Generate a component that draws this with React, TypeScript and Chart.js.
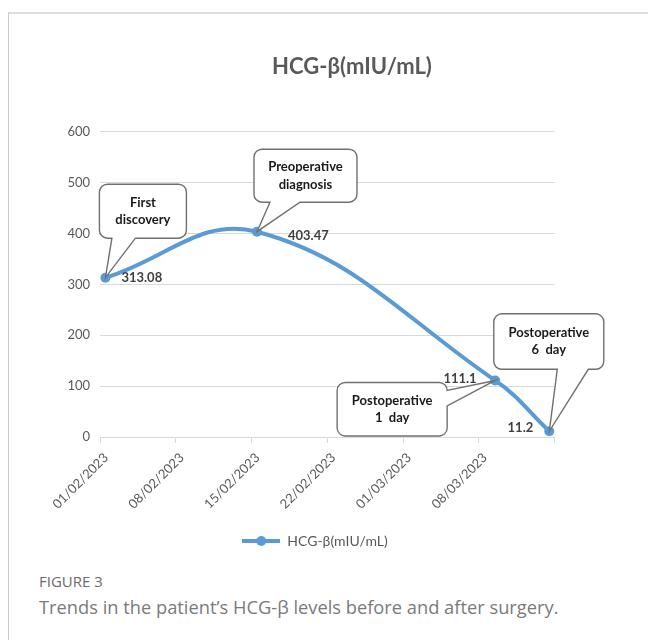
import React, { useEffect, useRef } from 'react';
import { Chart, registerables } from 'chart.js';

Chart.register(...registerables);

// ---------- data ----------
const seriesName = 'HCG-β(mIU/mL)';
const chartTitle = 'HCG-β(mIU/mL)';
const axisStartDate = '01/02/2023';
const axisLengthDays = 42;
const pointDates = ['01/02/2023', '15/02/2023', '09/03/2023', '14/03/2023'];
const hcgValues = [313.08, 403.47, 111.1, 11.2];
const valueLabels = ['313.08', '403.47', '111.1', '11.2'];
const calloutTexts = [
  ['First', 'discovery'],
  ['Preoperative', 'diagnosis'],
  ['Postoperative', '1  day'],
  ['Postoperative', '6  day'],
];
const xTickLabels = ['01/02/2023', '08/02/2023', '15/02/2023', '22/02/2023', '01/03/2023', '08/03/2023'];
const xTickStepDays = 7;
const yMin = 0;
const yMax = 600;
const yStep = 100;

// ---------- layout / style (not data) ----------
const BLUE = '#5B9BD5';
const AXIS_TEXT = '#595959';
const GRID = '#d9d9d9';
const FONT = 'Lato, "Open Sans", sans-serif';
const CAPTION_FONT = '"Open Sans", Lato, sans-serif';

// box offsets relative to point pixel; pointer side/base relative to box
const calloutLayout = [
  { dx: -6, dy: -93.5, w: 87, h: 54, side: 'bottom', b1: 12.5, b2: 36 },
  { dx: -3, dy: -82.5, w: 103, h: 53, side: 'bottom', b1: 16, b2: 46 },
  { dx: -158, dy: 2, w: 110, h: 53.5, side: 'right', b1: 8, b2: 23.5 },
  { dx: -55.5, dy: -117.5, w: 110, h: 55.5, side: 'bottom', b1: 63.5, b2: 94.5 },
];
const valueLabelLayout = [
  { dx: 16, dy: 0.5, align: 'left' },
  { dx: 31, dy: 4.5, align: 'left' },
  { dx: -18.5, dy: -1.5, align: 'right' },
  { dx: -16, dy: -3.5, align: 'right' },
];
const LEGEND_SHIFT = 37.7;

function dayOffset(d: string): number {
  const [dd, mm, yy] = d.split('/').map(Number);
  const [sd, sm, sy] = axisStartDate.split('/').map(Number);
  return (Date.UTC(yy, mm - 1, dd) - Date.UTC(sy, sm - 1, sd)) / 86400000;
}

function calloutPath(
  ctx: CanvasRenderingContext2D,
  x: number, y: number, w: number, h: number, r: number,
  side: string, b1: number, b2: number, tx: number, ty: number
) {
  ctx.beginPath();
  ctx.moveTo(x + r, y);
  ctx.lineTo(x + w - r, y);
  ctx.arcTo(x + w, y, x + w, y + r, r);
  if (side === 'right') {
    ctx.lineTo(x + w, y + b1);
    ctx.lineTo(tx, ty);
    ctx.lineTo(x + w, y + b2);
  }
  ctx.lineTo(x + w, y + h - r);
  ctx.arcTo(x + w, y + h, x + w - r, y + h, r);
  if (side === 'bottom') {
    ctx.lineTo(x + b2, y + h);
    ctx.lineTo(tx, ty);
    ctx.lineTo(x + b1, y + h);
  }
  ctx.lineTo(x + r, y + h);
  ctx.arcTo(x, y + h, x, y + h - r, r);
  ctx.lineTo(x, y + r);
  ctx.arcTo(x, y, x + r, y, r);
  ctx.closePath();
}

const annotationPlugin = {
  id: 'annotations',
  afterLayout(chart: any) {
    if (chart.legend) {
      chart.legend.left += LEGEND_SHIFT;
      chart.legend.right += LEGEND_SHIFT;
    }
  },
  afterDatasetsDraw(chart: any) {
    const ctx: CanvasRenderingContext2D = chart.ctx;
    const meta = chart.getDatasetMeta(0);
    ctx.save();
    // title
    ctx.fillStyle = AXIS_TEXT;
    ctx.font = `bold 22px ${FONT}`;
    ctx.textAlign = 'center';
    ctx.textBaseline = 'middle';
    ctx.fillText(chartTitle, 352, 67);

    // value labels
    ctx.font = `bold 13px ${FONT}`;
    ctx.fillStyle = '#404040';
    meta.data.forEach((pt: any, i: number) => {
      const l = valueLabelLayout[i];
      ctx.textAlign = l.align as CanvasTextAlign;
      ctx.fillText(valueLabels[i], pt.x + l.dx, pt.y + l.dy);
    });

    // callouts
    meta.data.forEach((pt: any, i: number) => {
      const c = calloutLayout[i];
      const bx = pt.x + c.dx;
      const by = pt.y + c.dy;
      calloutPath(ctx, bx, by, c.w, c.h, 8, c.side, c.b1, c.b2, pt.x, pt.y);
      ctx.fillStyle = '#ffffff';
      ctx.fill();
      ctx.strokeStyle = '#707070';
      ctx.lineWidth = 1.4;
      ctx.stroke();
      ctx.fillStyle = '#1a1a1a';
      ctx.font = `bold 13px ${FONT}`;
      ctx.textAlign = 'center';
      ctx.textBaseline = 'middle';
      const lines = calloutTexts[i];
      const lh = 17.3;
      const cy = by + c.h / 2;
      lines.forEach((t, k) => {
        ctx.fillText(t, bx + c.w / 2, cy + (k - (lines.length - 1) / 2) * lh);
      });
    });
    ctx.restore();
  },
};

export default function App() {
  const ref = useRef<HTMLCanvasElement>(null);

  useEffect(() => {
    const canvas = ref.current;
    if (!canvas) return;

    const icon = document.createElement('canvas');
    icon.width = 38;
    icon.height = 12;
    const ic = icon.getContext('2d')!;
    ic.strokeStyle = BLUE;
    ic.lineWidth = 4;
    ic.beginPath();
    ic.moveTo(0, 6);
    ic.lineTo(38, 6);
    ic.stroke();
    ic.fillStyle = BLUE;
    ic.beginPath();
    ic.arc(19, 6, 5, 0, Math.PI * 2);
    ic.fill();

    const points = pointDates.map((d, i) => ({ x: dayOffset(d) + 0.5, y: hcgValues[i] }));

    const chart = new Chart(canvas, {
      type: 'line',
      data: {
        datasets: [
          {
            label: seriesName,
            data: points,
            borderColor: BLUE,
            backgroundColor: BLUE,
            borderWidth: 4,
            tension: 0.4,
            pointRadius: 5,
            pointBorderWidth: 0,
            pointBackgroundColor: BLUE,
            borderCapStyle: 'round',
          } as any,
        ],
      },
      options: {
        responsive: false,
        animation: false,
        events: [],
        layout: { padding: { top: 131.7, left: 0, right: 93.3, bottom: 2 } },
        plugins: {
          title: { display: false },
          tooltip: { enabled: false },
          legend: {
            display: true,
            position: 'bottom',
            labels: {
              usePointStyle: true,
              pointStyle: icon as any,
              pointStyleWidth: 38,
              padding: 10,
              color: AXIS_TEXT,
              font: { family: FONT, size: 14 },
            },
          },
        },
        scales: {
          x: {
            type: 'linear',
            min: 0,
            max: axisLengthDays,
            afterFit: (s: any) => { s.height = 87; },
            grid: {
              drawOnChartArea: false,
              drawTicks: true,
              tickLength: 6,
              color: GRID,
            },
            border: { display: true, color: GRID, width: 1 },
            ticks: {
              stepSize: xTickStepDays,
              autoSkip: false,
              minRotation: 45,
              maxRotation: 45,
              padding: 7,
              labelOffset: 6,
              color: AXIS_TEXT,
              font: { family: FONT, size: 13 },
              callback: (v: any) => {
                const i = Math.round(Number(v) / xTickStepDays);
                return i < xTickLabels.length ? xTickLabels[i] : '';
              },
            },
          },
          y: {
            type: 'linear',
            min: yMin,
            max: yMax,
            afterFit: (s: any) => { s.width = 100; },
            grid: { color: GRID, lineWidth: 1, drawTicks: false },
            border: { display: false },
            ticks: {
              stepSize: yStep,
              padding: 10,
              color: AXIS_TEXT,
              font: { family: FONT, size: 13 },
            },
          },
        },
      },
      plugins: [annotationPlugin],
    });

    return () => chart.destroy();
  }, []);

  return (
    <div style={{ position: 'absolute', left: 0, top: 0, width: 648, height: 640, background: '#fff', overflow: 'hidden' }}>
      <div
        style={{
          position: 'absolute', left: 8, top: 12, width: 640, height: 628,
          borderTop: '2px solid #dedede', borderLeft: '1px solid #c9c9c9', boxSizing: 'border-box',
        }}
      />
      <canvas ref={ref} width={648} height={560} style={{ position: 'absolute', left: 0, top: 0, width: 648, height: 560 }} />
      <div style={{ position: 'absolute', left: 39, top: 571, font: `15px ${CAPTION_FONT}`, color: '#6b6b6b', whiteSpace: 'nowrap' }}>
        FIGURE 3
      </div>
      <div style={{ position: 'absolute', left: 39, top: 594, font: `18.3px ${CAPTION_FONT}`, color: '#7a7a7a', whiteSpace: 'nowrap' }}>
        Trends in the patient’s HCG-β levels before and after surgery.
      </div>
    </div>
  );
}
